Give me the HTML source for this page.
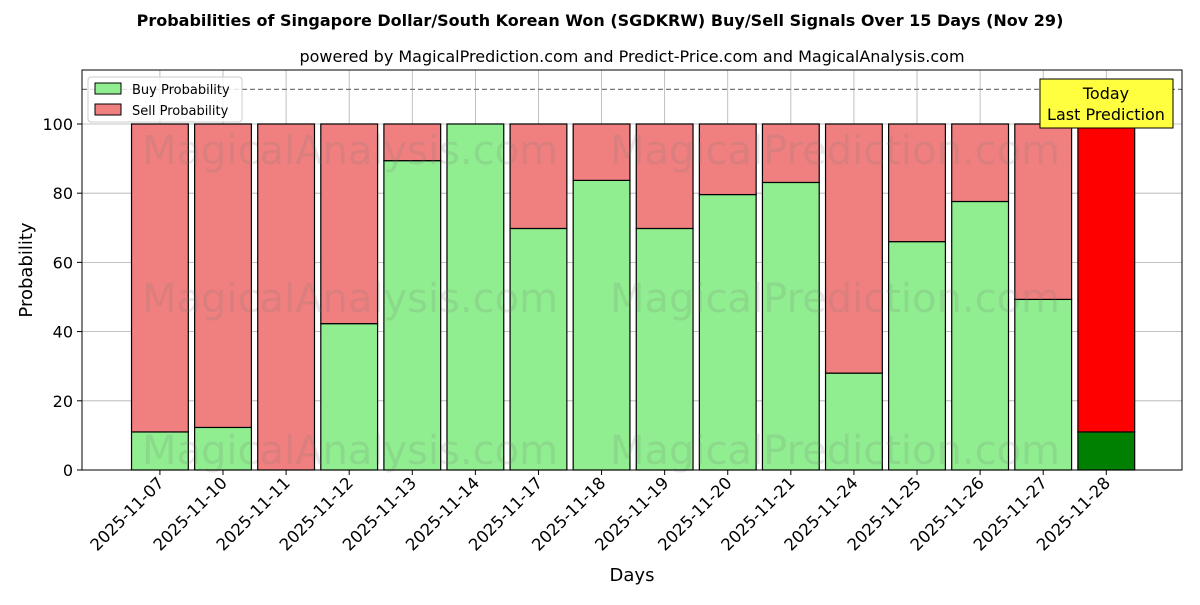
<!DOCTYPE html>
<html><head><meta charset="utf-8"><style>
body{margin:0;background:#fff;}
svg text{font-family:"DejaVu Sans","Liberation Sans",sans-serif;}
</style></head><body>
<svg id="c" width="1200" height="600" xmlns="http://www.w3.org/2000/svg"></svg>
<script>
const categories=["2025-11-07","2025-11-10","2025-11-11","2025-11-12","2025-11-13","2025-11-14","2025-11-17","2025-11-18","2025-11-19","2025-11-20","2025-11-21","2025-11-24","2025-11-25","2025-11-26","2025-11-27","2025-11-28"];
const buyValues=[11,12.3,0,42.3,89.4,100,69.8,83.7,69.8,79.6,83.1,28,66,77.6,49.3,11];
const yTicks=[0,20,40,60,80,100];
const NS="http://www.w3.org/2000/svg";
const svg=document.getElementById('c');
const L=82,R=1182,T=70,B=470;
const x0=-1.235,x1=16.2,ymax=115.6;
const X=i=>L+(i-x0)/(x1-x0)*(R-L);
const Y=v=>B-v/ymax*(B-T);
const bw=(X(1)-X(0))*0.9;
function el(tag,attrs,name,txt){const e=document.createElementNS(NS,tag);for(const k in attrs)e.setAttribute(k,attrs[k]);


if(txt!==undefined)e.textContent=txt;svg.appendChild(e);return e;}
el('text',{x:600,y:26,'text-anchor':'middle','font-size':16,'font-weight':'bold'},'chart-title','Probabilities of Singapore Dollar/South Korean Won (SGDKRW) Buy/Sell Signals Over 15 Days (Nov 29)');
el('text',{x:632,y:62,'text-anchor':'middle','font-size':16},'chart-subtitle','powered by MagicalPrediction.com and Predict-Price.com and MagicalAnalysis.com');
categories.forEach((c,i)=>{el('line',{x1:X(i),x2:X(i),y1:T,y2:B,stroke:'#b0b0b0','stroke-width':0.8},'x-grid-line');});
yTicks.forEach(v=>{el('line',{x1:L,x2:R,y1:Y(v),y2:Y(v),stroke:'#b0b0b0','stroke-width':0.8},'y-grid-line');
el('line',{x1:L-5,x2:L,y1:Y(v),y2:Y(v),stroke:'#000'},'y-tick');
el('text',{x:L-9,y:Y(v)+6,'text-anchor':'end','font-size':16},'y-tick-label',String(v));});
categories.forEach((c,i)=>{const b=buyValues[i];const last=i===categories.length-1;
el('rect',{x:X(i)-bw/2,y:Y(b),width:bw,height:Y(0)-Y(b),fill:last?'#008000':'#90ee90',stroke:'#000','stroke-width':1.2},'buy-bar');
el('rect',{x:X(i)-bw/2,y:Y(100),width:bw,height:Y(b)-Y(100),fill:last?'#ff0000':'#f08080',stroke:'#000','stroke-width':1.2},'sell-bar');
el('line',{x1:X(i),x2:X(i),y1:B,y2:B+5,stroke:'#000'},'x-tick');
el('text',{x:X(i)+5,y:B+14,'text-anchor':'end','font-size':16.5,transform:`rotate(-45 ${X(i)+5} ${B+14})`},'x-tick-label',c);});
[[350,150],[835,150],[350,298],[835,298],[350,450],[835,450]].forEach((p,k)=>{
el('text',{x:p[0],y:p[1]+14,'text-anchor':'middle','font-size':40,fill:'rgba(120,120,120,0.17)'},'watermark',k%2?'MagicalPrediction.com':'MagicalAnalysis.com');});
el('line',{x1:L,x2:R,y1:Y(110),y2:Y(110),stroke:'#777','stroke-width':1.2,'stroke-dasharray':'5,3'},'reference-line-110');
el('rect',{x:L,y:T,width:R-L,height:B-T,fill:'none',stroke:'#000','stroke-width':1},'plot-frame');
el('rect',{x:88,y:77,width:154,height:45,rx:3,fill:'#fff','fill-opacity':0.8,stroke:'#ccc'},'legend');
el('rect',{x:95,y:83,width:26,height:11,fill:'#90ee90',stroke:'#000'},'legend-buy-swatch');
el('text',{x:132,y:94,'font-size':13},'legend-buy-label','Buy Probability');
el('rect',{x:95,y:104,width:26,height:11,fill:'#f08080',stroke:'#000'},'legend-sell-swatch');
el('text',{x:132,y:115,'font-size':13},'legend-sell-label','Sell Probability');
el('rect',{x:1040,y:79,width:133,height:49,fill:'#ffff40',stroke:'#000'},'today-annotation-box');
el('text',{x:1106,y:99,'text-anchor':'middle','font-size':16},'today-label','Today');
el('text',{x:1106,y:120,'text-anchor':'middle','font-size':16},'last-prediction-label','Last Prediction');
el('text',{x:632,y:581,'text-anchor':'middle','font-size':18},'x-axis-title','Days');
el('text',{x:32,y:270,'text-anchor':'middle','font-size':18,transform:'rotate(-90 32 270)'},'y-axis-title','Probability');
</script>
</body></html>
